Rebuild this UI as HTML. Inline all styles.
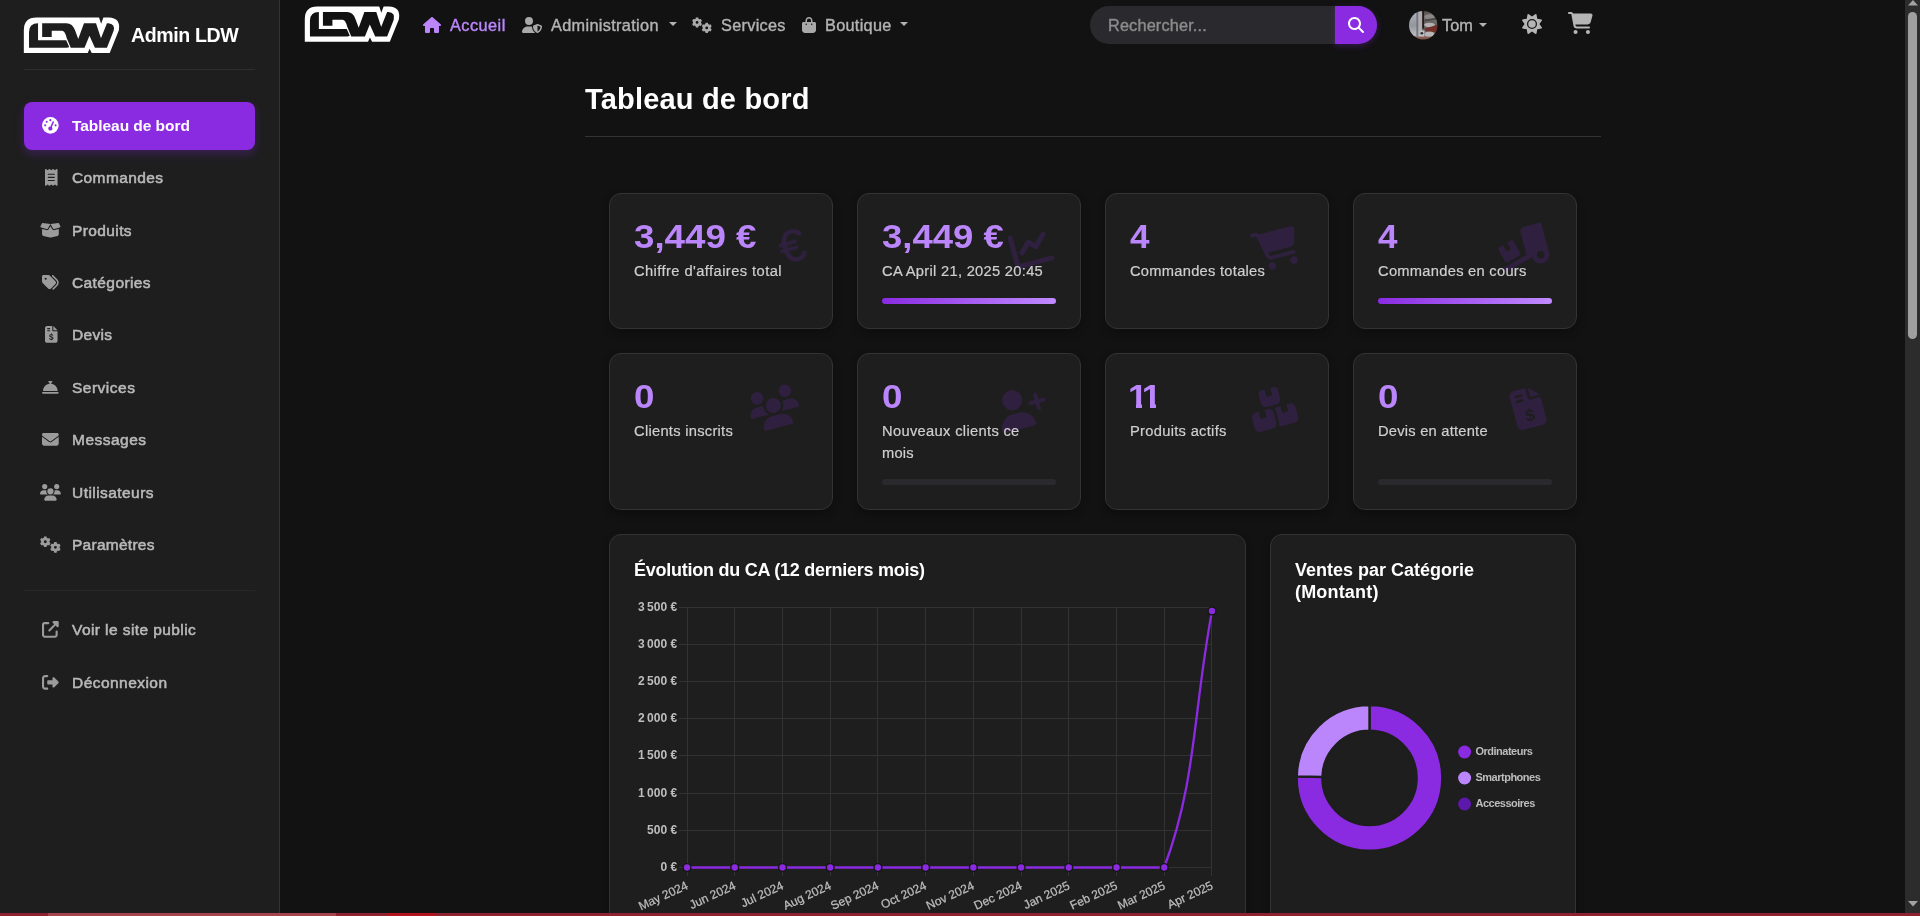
<!DOCTYPE html>
<html lang="fr">
<head>
<meta charset="utf-8">
<title>Admin LDW - Tableau de bord</title>
<style>
*{box-sizing:border-box;margin:0;padding:0}
html,body{width:1920px;height:916px;overflow:hidden;background:#121212}
body{position:relative;font-family:"Liberation Sans",sans-serif;color:#e0e0e0;-webkit-font-smoothing:antialiased}
.abs{position:absolute}
.t{position:absolute;white-space:nowrap;line-height:24px;height:24px;will-change:transform}
svg{position:absolute;overflow:visible}
/* sidebar */
#sidebar{position:absolute;left:0;top:0;width:280px;height:913px;background:#1e1e1e;border-right:1px solid #333}
#sidebar .hr{position:absolute;left:24px;width:231px;height:1px;background:#2e2e2e}
#sidebar .active{position:absolute;left:24px;top:102px;width:231px;height:48px;border-radius:8px;background:#8a2be2;box-shadow:0 4px 10px rgba(138,43,226,.28)}
.nl{font-size:15.5px;color:#b9b9b9;left:72.4px;-webkit-text-stroke:.55px #b9b9b9}
.nl.on{color:#fff;font-weight:700;-webkit-text-stroke:0}
.ni{fill:#9b9b9b}
/* top nav */
.tn{font-size:16.3px;color:#b3b3b3;-webkit-text-stroke:.4px #b3b3b3}
.tn.on{color:#bb86fc;-webkit-text-stroke-color:#bb86fc}
.ti{fill:#a9a9a9}
.caret{position:absolute;width:0;height:0;border-left:4px solid transparent;border-right:4px solid transparent;border-top:4.5px solid #b3b3b3}
#search{position:absolute;left:1090px;top:6px;width:287px;height:38px;border-radius:19px;background:#2a2a2e}
#search .btn{position:absolute;right:0;top:0;width:42px;height:38px;background:#8a2be2;border-radius:0 19px 19px 0;box-shadow:0 2px 6px rgba(138,43,226,.3)}
/* main */
.card{position:absolute;background:#1e1e1e;border:1px solid #333;border-radius:12px;box-shadow:0 4px 8px rgba(0,0,0,.28)}
.num{font-size:32.4px;font-weight:700;color:#bb86fc;line-height:40px;height:40px;transform-origin:0 50%}
.lbl{font-size:14.7px;color:#cfcfcf;-webkit-text-stroke:.2px #cfcfcf;line-height:22px;height:22px}
.bar{position:absolute;height:6px;width:174px;border-radius:3px;background:#2a2a2e}
.bar.full{background:linear-gradient(90deg,#8a2be2,#c08bff)}
.bg{fill:#30203f;z-index:0}
.num,.lbl{z-index:2}
.ct{font-size:18px;font-weight:700;color:#fff}
/*AUTOFIT*/
#brand{letter-spacing:-0.414px}
#n0{letter-spacing:-0.047px}
#n1{letter-spacing:0.403px}
#n2{letter-spacing:0.389px}
#n3{letter-spacing:0.403px}
#n4{letter-spacing:0.309px}
#n5{letter-spacing:0.495px}
#n6{letter-spacing:0.478px}
#n7{letter-spacing:0.439px}
#n8{letter-spacing:0.264px}
#n9{letter-spacing:0.416px}
#n10{letter-spacing:0.452px}
#t0{letter-spacing:0.467px}
#t1{letter-spacing:0.333px}
#t2{letter-spacing:0.295px}
#t3{letter-spacing:0.288px}
#t4{letter-spacing:0.155px}
#t5{letter-spacing:0.067px}
#h1{letter-spacing:0.184px}
#c0{transform:scaleX(1.1334)}
#c1{transform:scaleX(1.1270)}
#c2{transform:scaleX(1.0824)}
#c3{transform:scaleX(1.0824)}
#c4{transform:scaleX(1.1324)}
#c5{transform:scaleX(1.1324)}
#c6{letter-spacing:-3.54px;transform:scaleX(1.09)}
#c7{transform:scaleX(1.1324)}
#l0{letter-spacing:0.422px}
#l1{letter-spacing:0.293px}
#l2{letter-spacing:0.267px}
#l3{letter-spacing:0.277px}
#l4{letter-spacing:0.274px}
#l5{letter-spacing:0.325px}
#l5b{letter-spacing:0.228px}
#l6{letter-spacing:0.296px}
#l7{letter-spacing:0.231px}
#ct0{letter-spacing:-0.251px}
#ct1{letter-spacing:-0.004px}
#ct2{letter-spacing:0.179px}
/*END*/
</style>
</head>
<body>

<!-- ============ SIDEBAR ============ -->
<div id="sidebar">
  <div class="t" id="brand" style="left:131.3px;top:23.2px;font-size:19.6px;font-weight:700;color:#fff">Admin LDW</div>
  <div class="hr" style="top:69px"></div>
  <div class="active"></div>
  <div class="t nl on" id="n0" style="top:114px">Tableau de bord</div>
  <div class="t nl" id="n1" style="top:166px">Commandes</div>
  <div class="t nl" id="n2" style="top:219px">Produits</div>
  <div class="t nl" id="n3" style="top:271px">Catégories</div>
  <div class="t nl" id="n4" style="top:323px">Devis</div>
  <div class="t nl" id="n5" style="top:376px">Services</div>
  <div class="t nl" id="n6" style="top:428px">Messages</div>
  <div class="t nl" id="n7" style="top:481px">Utilisateurs</div>
  <div class="t nl" id="n8" style="top:533px">Paramètres</div>
  <div class="hr" style="top:590px;background:#272727"></div>
  <div class="t nl" id="n9" style="top:618px">Voir le site public</div>
  <div class="t nl" id="n10" style="top:671px">Déconnexion</div>
</div>

<!-- ============ TOP NAV ============ -->
<div id="topnav">
  <div class="t tn on" id="t0" style="left:450px;top:13.3px">Accueil</div>
  <div class="t tn" id="t1" style="left:550.8px;top:13.3px">Administration</div>
  <div class="caret" style="left:668.5px;top:21.7px"></div>
  <div class="t tn" id="t2" style="left:720.8px;top:13.3px">Services</div>
  <div class="t tn" id="t3" style="left:825px;top:13.3px">Boutique</div>
  <div class="caret" style="left:900px;top:21.7px"></div>
  <div id="search">
    <div class="t" id="t4" style="left:17.5px;top:7.3px;font-size:16.3px;color:#8c8c8c;-webkit-text-stroke:.4px #8c8c8c">Rechercher...</div>
    <div class="btn"></div>
  </div>
  <div class="t tn" id="t5" style="left:1442.1px;top:13.1px">Tom</div>
  <div class="caret" style="left:1478.5px;top:22.8px;border-top-width:4px"></div>
</div>

<!-- ============ MAIN ============ -->
<div id="main">
  <div class="t" id="h1" style="left:585.3px;top:87px;font-size:29px;font-weight:700;color:#fff;line-height:24px">Tableau de bord</div>
  <div class="abs" style="left:585px;top:136px;width:1016px;height:1px;background:#333"></div>

  <!-- row 1 -->
  <div class="card" style="left:609px;top:193px;width:224px;height:136px"></div>
  <div class="card" style="left:857px;top:193px;width:224px;height:136px"></div>
  <div class="card" style="left:1105px;top:193px;width:224px;height:136px"></div>
  <div class="card" style="left:1353px;top:193px;width:224px;height:136px"></div>
  <!-- row 2 -->
  <div class="card" style="left:609px;top:353px;width:224px;height:157px"></div>
  <div class="card" style="left:857px;top:353px;width:224px;height:157px"></div>
  <div class="card" style="left:1105px;top:353px;width:224px;height:157px"></div>
  <div class="card" style="left:1353px;top:353px;width:224px;height:157px"></div>

  <div class="t num" id="c0" style="left:633.9px;top:216.9px">3,449 €</div>
  <div class="t lbl" id="l0" style="left:633.9px;top:259.9px">Chiffre d'affaires total</div>
  <div class="t num" id="c1" style="left:882.4px;top:216.9px">3,449 €</div>
  <div class="t lbl" id="l1" style="left:882.4px;top:259.9px">CA April 21, 2025 20:45</div>
  <div class="bar full" style="left:882px;top:298px"></div>
  <div class="t num" id="c2" style="left:1130.2px;top:216.9px">4</div>
  <div class="t lbl" id="l2" style="left:1129.8px;top:259.9px">Commandes totales</div>
  <div class="t num" id="c3" style="left:1378.2px;top:216.9px">4</div>
  <div class="t lbl" id="l3" style="left:1377.7px;top:259.9px">Commandes en cours</div>
  <div class="bar full" style="left:1378px;top:298px"></div>

  <div class="t num" id="c4" style="left:633.9px;top:376.9px">0</div>
  <div class="t lbl" id="l4" style="left:633.9px;top:419.9px">Clients inscrits</div>
  <div class="t num" id="c5" style="left:881.9px;top:376.9px">0</div>
  <div class="t lbl" id="l5" style="left:882px;top:419.9px">Nouveaux clients ce</div>
  <div class="t lbl" id="l5b" style="left:882px;top:441.5px">mois</div>
  <div class="bar" style="left:882px;top:479px"></div>
  <div class="t num" id="c6" style="left:1127.97px;top:376.9px">11</div>
  <div class="abs" style="left:1128.5px;top:403.4px;width:7.7px;height:5.4px;background:#1e1e1e;z-index:3"></div>
  <div class="abs" style="left:1141.8px;top:403.4px;width:8.2px;height:5.4px;background:#1e1e1e;z-index:3"></div>
  <div class="abs" style="left:1155.6px;top:403.4px;width:7px;height:5.4px;background:#1e1e1e;z-index:3"></div>
  <div class="t lbl" id="l6" style="left:1129.8px;top:419.9px">Produits actifs</div>
  <div class="t num" id="c7" style="left:1377.9px;top:376.9px">0</div>
  <div class="t lbl" id="l7" style="left:1377.7px;top:419.9px">Devis en attente</div>
  <div class="bar" style="left:1378px;top:479px"></div>

  <!-- chart cards -->
  <div class="card" style="left:609px;top:534px;width:637px;height:420px"></div>
  <div class="card" style="left:1270px;top:534px;width:306px;height:420px"></div>
  <div class="t ct" id="ct0" style="left:633.9px;top:558px">Évolution du CA (12 derniers mois)</div>
  <div class="t ct" id="ct1" style="left:1295px;top:558px">Ventes par Catégorie</div>
  <div class="t ct" id="ct2" style="left:1295px;top:579.6px">(Montant)</div>
</div>

<!--CHARTS-->
<svg id="linechart" style="left:0;top:0;width:1920px;height:913px" viewBox="0 0 1920 913" font-family="Liberation Sans, sans-serif">
<g stroke="#323232" stroke-width="1" shape-rendering="crispEdges">
<line x1="679" y1="607.5" x2="1212.0" y2="607.5"/>
<line x1="679" y1="644.5" x2="1212.0" y2="644.5"/>
<line x1="679" y1="681.5" x2="1212.0" y2="681.5"/>
<line x1="679" y1="718.5" x2="1212.0" y2="718.5"/>
<line x1="679" y1="755.5" x2="1212.0" y2="755.5"/>
<line x1="679" y1="793.5" x2="1212.0" y2="793.5"/>
<line x1="679" y1="830.5" x2="1212.0" y2="830.5"/>
<line x1="679" y1="867.5" x2="1212.0" y2="867.5"/>
<line x1="687.5" y1="607.0" x2="687.5" y2="876"/>
<line x1="734.5" y1="607.0" x2="734.5" y2="876"/>
<line x1="782.5" y1="607.0" x2="782.5" y2="876"/>
<line x1="830.5" y1="607.0" x2="830.5" y2="876"/>
<line x1="877.5" y1="607.0" x2="877.5" y2="876"/>
<line x1="925.5" y1="607.0" x2="925.5" y2="876"/>
<line x1="973.5" y1="607.0" x2="973.5" y2="876"/>
<line x1="1021.5" y1="607.0" x2="1021.5" y2="876"/>
<line x1="1068.5" y1="607.0" x2="1068.5" y2="876"/>
<line x1="1116.5" y1="607.0" x2="1116.5" y2="876"/>
<line x1="1164.5" y1="607.0" x2="1164.5" y2="876"/>
<line x1="1211.5" y1="607.0" x2="1211.5" y2="876"/>
</g>
<g font-size="12" font-weight="700" fill="#bdbdbd" text-anchor="end">
<text x="677.1" y="610.9">3 500 €</text>
<text x="677.1" y="647.9">3 000 €</text>
<text x="677.1" y="684.9">2 500 €</text>
<text x="677.1" y="721.9">2 000 €</text>
<text x="677.1" y="758.9">1 500 €</text>
<text x="677.1" y="796.9">1 000 €</text>
<text x="677.1" y="833.9">500 €</text>
<text x="677.1" y="870.9">0 €</text>
</g>
<g font-size="12" fill="#bdbdbd" stroke="#bdbdbd" stroke-width="0.25" text-anchor="end">
<text transform="translate(687.0,884.5) rotate(-25)" y="4.2">May 2024</text>
<text transform="translate(734.8,884.5) rotate(-25)" y="4.2">Jun 2024</text>
<text transform="translate(782.5,884.5) rotate(-25)" y="4.2">Jul 2024</text>
<text transform="translate(830.2,884.5) rotate(-25)" y="4.2">Aug 2024</text>
<text transform="translate(877.9,884.5) rotate(-25)" y="4.2">Sep 2024</text>
<text transform="translate(925.6,884.5) rotate(-25)" y="4.2">Oct 2024</text>
<text transform="translate(973.4,884.5) rotate(-25)" y="4.2">Nov 2024</text>
<text transform="translate(1021.1,884.5) rotate(-25)" y="4.2">Dec 2024</text>
<text transform="translate(1068.8,884.5) rotate(-25)" y="4.2">Jan 2025</text>
<text transform="translate(1116.5,884.5) rotate(-25)" y="4.2">Feb 2025</text>
<text transform="translate(1164.2,884.5) rotate(-25)" y="4.2">Mar 2025</text>
<text transform="translate(1212.0,884.5) rotate(-25)" y="4.2">Apr 2025</text>
</g>
<path d="M687.0,867.5 L1164.2,867.5 C1196.5,780.7 1192.9,713.5 1212.0,610.9" fill="none" stroke="#8a2be2" stroke-width="2.3" stroke-linecap="butt"/>
<circle cx="687.03" cy="867.5" r="4.6" fill="#161616"/><circle cx="687.03" cy="867.5" r="3.15" fill="#8a2be2"/>
<circle cx="734.75" cy="867.5" r="4.6" fill="#161616"/><circle cx="734.75" cy="867.5" r="3.15" fill="#8a2be2"/>
<circle cx="782.47" cy="867.5" r="4.6" fill="#161616"/><circle cx="782.47" cy="867.5" r="3.15" fill="#8a2be2"/>
<circle cx="830.20" cy="867.5" r="4.6" fill="#161616"/><circle cx="830.20" cy="867.5" r="3.15" fill="#8a2be2"/>
<circle cx="877.92" cy="867.5" r="4.6" fill="#161616"/><circle cx="877.92" cy="867.5" r="3.15" fill="#8a2be2"/>
<circle cx="925.64" cy="867.5" r="4.6" fill="#161616"/><circle cx="925.64" cy="867.5" r="3.15" fill="#8a2be2"/>
<circle cx="973.36" cy="867.5" r="4.6" fill="#161616"/><circle cx="973.36" cy="867.5" r="3.15" fill="#8a2be2"/>
<circle cx="1021.08" cy="867.5" r="4.6" fill="#161616"/><circle cx="1021.08" cy="867.5" r="3.15" fill="#8a2be2"/>
<circle cx="1068.80" cy="867.5" r="4.6" fill="#161616"/><circle cx="1068.80" cy="867.5" r="3.15" fill="#8a2be2"/>
<circle cx="1116.53" cy="867.5" r="4.6" fill="#161616"/><circle cx="1116.53" cy="867.5" r="3.15" fill="#8a2be2"/>
<circle cx="1164.25" cy="867.5" r="4.6" fill="#161616"/><circle cx="1164.25" cy="867.5" r="3.15" fill="#8a2be2"/>
<circle cx="1211.97" cy="610.9" r="4.6" fill="#161616"/><circle cx="1211.97" cy="610.9" r="3.15" fill="#8a2be2"/>
</svg>
<svg id="donut" style="left:0;top:0;width:1920px;height:913px" viewBox="0 0 1920 913" font-family="Liberation Sans, sans-serif">
<path d="M1369.50,705.10 A72.8,72.8 0 1 1 1296.72,776.38 L1322.41,776.91 A47.1,47.1 0 1 0 1369.50,730.80 Z" fill="#8a2be2" stroke="#1e1e1e" stroke-width="2.4" stroke-linejoin="miter"/>
<path d="M1296.72,776.38 A72.8,72.8 0 0 1 1369.50,705.10 L1369.50,730.80 A47.1,47.1 0 0 0 1322.41,776.91 Z" fill="#bb86fc" stroke="#1e1e1e" stroke-width="2.4" stroke-linejoin="miter"/>
<circle cx="1464.6" cy="752" r="6.5" fill="#8a2be2"/>
<text id="lg0" x="1475.5" y="755.4" font-size="11" font-weight="700" fill="#bdbdbd" letter-spacing="-0.5">Ordinateurs</text>
<circle cx="1464.6" cy="778" r="6.5" fill="#bb86fc"/>
<text id="lg1" x="1475.5" y="781.4" font-size="11" font-weight="700" fill="#bdbdbd" letter-spacing="-0.5">Smartphones</text>
<circle cx="1464.6" cy="804" r="6.5" fill="#5b18aa"/>
<text id="lg2" x="1475.5" y="807.4" font-size="11" font-weight="700" fill="#bdbdbd" letter-spacing="-0.5">Accessoires</text>
</svg>
<!--/CHARTS-->
<!--ICONS-->
<svg class="ni" style="left:42.44px;top:116.84px;width:16.72px;height:16.72px;fill:#fff;" viewBox="0 0 512 512"><path fill-rule="evenodd" d="M0 256a256 256 0 1 1 512 0A256 256 0 1 1 0 256zM288 96a32 32 0 1 0 -64 0 32 32 0 1 0 64 0zM256 416c35.3 0 64-28.7 64-64c0-17.400-6.900-33.100-18.100-44.600L366 161.700c5.300-12.100-.2-26.300-12.300-31.600s-26.300 .2-31.600 12.300L257.900 288c-.6 0-1.300 0-1.900 0c-35.300 0-64 28.700-64 64s28.700 64 64 64zM176 144a32 32 0 1 0 -64 0 32 32 0 1 0 64 0zM96 288a32 32 0 1 0 0-64 32 32 0 1 0 0 64zm352-32a32 32 0 1 0 -64 0 32 32 0 1 0 64 0z"/></svg>
<svg class="ni" style="left:44.53px;top:168.84px;width:12.54px;height:16.72px;" viewBox="0 0 384 512"><path fill-rule="evenodd" d="M14 2.200C22.500-1.700 32.500-.3 39.600 5.800L80 40.400 120.400 5.800c9-7.700 22.300-7.700 31.200 0L192 40.400 232.400 5.800c9-7.700 22.300-7.700 31.200 0L304 40.400 344.400 5.800c7.100-6.100 17.100-7.500 25.600-3.600s14 12.400 14 21.800V488c0 9.400-5.500 17.900-14 21.800s-18.500 2.500-25.600-3.600L304 471.600l-40.400 34.600c-9 7.700-22.300 7.700-31.200 0L192 471.600l-40.400 34.600c-9 7.700-22.300 7.700-31.200 0L80 471.600 39.600 506.200c-7.100 6.100-17.100 7.500-25.600 3.600S0 497.400 0 488V24C0 14.600 5.500 6.100 14 2.200zM96 144c-8.800 0-16 7.200-16 16s7.200 16 16 16H288c8.800 0 16-7.200 16-16s-7.200-16-16-16H96zM80 352c0 8.800 7.200 16 16 16H288c8.800 0 16-7.200 16-16s-7.200-16-16-16H96c-8.800 0-16 7.200-16 16zM96 240c-8.800 0-16 7.200-16 16s7.200 16 16 16H288c8.800 0 16-7.200 16-16s-7.200-16-16-16H96z"/></svg>
<svg class="ni" style="left:40.35px;top:221.84px;width:20.90px;height:16.72px;" viewBox="0 0 640 512"><path fill-rule="evenodd" d="M58.900 42.100c3-6.100 9.600-9.600 16.300-8.700L320 64 564.800 33.400c6.700-.8 13.300 2.700 16.300 8.700l41.700 83.400c9 17.900-.6 39.600-19.800 45.100L439.600 217.300c-13.900 4-28.800-1.900-36.200-14.300L320 64 236.600 203c-7.400 12.400-22.300 18.300-36.200 14.300L37.100 170.600c-19.300-5.500-28.800-27.200-19.800-45.100L58.900 42.100zM321.100 128l54.900 91.400c14.900 24.800 44.600 36.600 72.500 28.600L576 211.600v167c0 22-15 41.200-36.400 46.600l-204.100 51c-10.200 2.600-20.900 2.600-31 0l-204.100-51C79 419.700 64 400.500 64 378.500v-167L191.600 248c27.800 8 57.600-3.800 72.500-28.600L318.900 128h2.200z"/></svg>
<svg class="ni" style="left:42.44px;top:273.84px;width:16.72px;height:16.72px;" viewBox="0 0 512 512"><path fill-rule="evenodd" d="M345 39.100L472.800 168.400c52.400 53 52.400 138.200 0 191.200L360.800 472.900c-9.300 9.400-24.500 9.500-33.900 .2s-9.500-24.500-.2-33.900L438.600 325.900c33.900-34.300 33.900-89.400 0-123.700L310.900 72.900c-9.300-9.400-9.200-24.600 .2-33.900s24.600-9.200 33.900 .2zM0 229.500V80C0 53.500 21.500 32 48 32H197.500c17 0 33.300 6.700 45.300 18.700l168 168c25 25 25 65.500 0 90.500L277.300 442.700c-25 25-65.500 25-90.500 0l-168-168C6.700 262.700 0 246.500 0 229.500zM144 144a32 32 0 1 0 -64 0 32 32 0 1 0 64 0z"/></svg>
<svg class="ni" style="left:44.53px;top:325.84px;width:12.54px;height:16.72px;" viewBox="0 0 384 512"><path fill-rule="evenodd" d="M64 0C28.700 0 0 28.700 0 64V448c0 35.300 28.700 64 64 64H320c35.300 0 64-28.700 64-64V160H256c-17.700 0-32-14.300-32-32V0H64zM256 0V128H384L256 0zM64 80c0-8.800 7.200-16 16-16h64c8.800 0 16 7.200 16 16s-7.200 16-16 16H80c-8.800 0-16-7.200-16-16zm0 64c0-8.800 7.200-16 16-16h64c8.800 0 16 7.200 16 16s-7.200 16-16 16H80c-8.800 0-16-7.200-16-16z"/><text x="192" y="440" font-size="250" font-weight="700" text-anchor="middle" font-family="Liberation Sans, sans-serif" fill="#1e1e1e">$</text></svg>
<svg class="ni" style="left:42.44px;top:378.84px;width:16.72px;height:16.72px;" viewBox="0 0 512 512"><path fill-rule="evenodd" d="M216 64c-13.300 0-24 10.700-24 24s10.700 24 24 24h16v33.300C119.600 157.200 32 252.400 32 368H480c0-115.600-87.600-210.800-200-222.700V112h16c13.300 0 24-10.700 24-24s-10.700-24-24-24H256 216zM24 400c-13.300 0-24 10.700-24 24s10.700 24 24 24H488c13.300 0 24-10.700 24-24s-10.700-24-24-24H24z"/></svg>
<svg class="ni" style="left:42.44px;top:430.84px;width:16.72px;height:16.72px;" viewBox="0 0 512 512"><path fill-rule="evenodd" d="M48 64C21.500 64 0 85.500 0 112c0 15.100 7.100 29.300 19.200 38.400L236.800 313.600c11.400 8.500 27 8.500 38.400 0L492.800 150.400c12.100-9.100 19.200-23.300 19.200-38.400c0-26.500-21.500-48-48-48H48zM0 176V384c0 35.300 28.700 64 64 64H448c35.300 0 64-28.700 64-64V176L294.400 339.200c-22.800 17.100-54 17.100-76.800 0L0 176z"/></svg>
<svg class="ni" style="left:40.35px;top:483.84px;width:20.90px;height:16.72px;" viewBox="0 0 640 512"><path fill-rule="evenodd" d="M144 0a80 80 0 1 1 0 160A80 80 0 1 1 144 0zM512 0a80 80 0 1 1 0 160A80 80 0 1 1 512 0zM0 298.700C0 239.800 47.800 192 106.700 192h42.700c15.900 0 31 3.500 44.600 9.700c-1.300 7.200-1.900 14.700-1.900 22.300c0 38.200 16.800 72.500 43.300 96c-.2 0-.4 0-.7 0H21.300C9.600 320 0 310.400 0 298.700zM405.300 320c-.2 0-.4 0-.7 0c26.600-23.500 43.300-57.800 43.300-96c0-7.600-.7-15-1.900-22.300c13.600-6.300 28.700-9.700 44.600-9.700h42.700C592.200 192 640 239.800 640 298.700c0 11.800-9.600 21.300-21.300 21.300H405.300zM224 224a96 96 0 1 1 192 0 96 96 0 1 1 -192 0zM128 485.300C128 411.700 187.700 352 261.300 352H378.700C452.300 352 512 411.700 512 485.300c0 14.700-11.900 26.700-26.700 26.700H154.700c-14.700 0-26.700-11.900-26.700-26.700z"/></svg>
<svg class="ni" style="left:40.35px;top:535.84px;width:20.90px;height:16.72px;" viewBox="0 0 640 512"><path fill-rule="evenodd" d="M115.6 53.1 L124.7 12.3 L199.3 12.3 L208.4 53.1 L243.5 73.4 L283.4 60.8 L320.7 125.5 L289.9 153.7 L289.9 194.3 L320.7 222.5 L283.4 287.2 L243.5 274.6 L208.4 294.9 L199.3 335.7 L124.7 335.7 L115.6 294.9 L80.5 274.6 L40.6 287.2 L3.3 222.5 L34.1 194.3 L34.1 153.7 L3.3 125.5 L40.6 60.8 L80.5 73.4ZM117.2 174.0a44.8 44.8 0 1 0 89.6 0a44.8 44.8 0 1 0 -89.6 0ZM425.6 227.1 L434.7 186.3 L509.3 186.3 L518.4 227.1 L553.5 247.4 L593.4 234.8 L630.7 299.5 L599.9 327.7 L599.9 368.3 L630.7 396.5 L593.4 461.2 L553.5 448.6 L518.4 468.9 L509.3 509.7 L434.7 509.7 L425.6 468.9 L390.5 448.6 L350.6 461.2 L313.3 396.5 L344.1 368.3 L344.1 327.7 L313.3 299.5 L350.6 234.8 L390.5 247.4ZM427.2 348.0a44.8 44.8 0 1 0 89.6 0a44.8 44.8 0 1 0 -89.6 0Z"/></svg>
<svg class="ni" style="left:42.44px;top:620.84px;width:16.72px;height:16.72px;" viewBox="0 0 512 512"><path fill-rule="evenodd" d="M352 0c-12.900 0-24.600 7.800-29.600 19.800s-2.200 25.700 6.900 34.900L370.700 96 201.400 265.400c-12.500 12.500-12.500 32.800 0 45.300s32.800 12.500 45.300 0L416 141.300l41.400 41.400c9.200 9.200 22.900 11.900 34.900 6.900s19.800-16.600 19.800-29.600V32c0-17.700-14.300-32-32-32H352zM80 32C35.800 32 0 67.800 0 112V432c0 44.200 35.800 80 80 80H400c44.200 0 80-35.800 80-80V320c0-17.700-14.300-32-32-32s-32 14.300-32 32V432c0 8.800-7.200 16-16 16H80c-8.800 0-16-7.200-16-16V112c0-8.800 7.200-16 16-16H192c17.700 0 32-14.300 32-32s-14.300-32-32-32H80z"/></svg>
<svg class="ni" style="left:42.44px;top:673.84px;width:16.72px;height:16.72px;" viewBox="0 0 512 512"><path fill-rule="evenodd" d="M377.900 105.900L500.700 228.700c7.200 7.200 11.300 17.100 11.300 27.300s-4.100 20.100-11.300 27.300L377.900 406.100c-6.400 6.400-15 9.900-24 9.900c-18.700 0-33.900-15.200-33.900-33.900l0-62.100-128 0c-17.700 0-32-14.300-32-32l0-64c0-17.700 14.300-32 32-32l128 0 0-62.100c0-18.700 15.200-33.900 33.900-33.900c9 0 17.600 3.600 24 9.900zM160 96L96 96c-17.700 0-32 14.300-32 32l0 256c0 17.700 14.300 32 32 32l64 0c17.700 0 32 14.300 32 32s-14.300 32-32 32l-64 0c-53 0-96-43-96-96L0 128C0 75 43 32 96 32l64 0c17.700 0 32 14.300 32 32s-14.300 32-32 32z"/></svg>
<svg class="ti" style="left:423.20px;top:16.80px;width:18.00px;height:16.00px;fill:#bb86fc;" viewBox="0 0 576 512"><path fill-rule="evenodd" d="M575.800 255.500c0 18-15 32.100-32 32.100h-32l.7 160.200c0 2.700-.2 5.400-.5 8.100V472c0 22.100-17.900 40-40 40H456c-1.100 0-2.200 0-3.300-.1c-1.400 .1-2.800 .1-4.200 .1H416 392c-22.100 0-40-17.900-40-40V448 384c0-17.700-14.300-32-32-32H256c-17.700 0-32 14.300-32 32v64 24c0 22.100-17.900 40-40 40H160 128.100c-1.500 0-3-.1-4.500-.2c-1.200 .1-2.400 .2-3.600 .2H104c-22.100 0-40-17.900-40-40V360c0-.9 0-1.900 .1-2.800V287.600H32c-18 0-32-14-32-32.100c0-9 3-17 10-24L266.400 8c7-7 15-8 22-8s15 2 21 7L564.800 231.500c8 7 12 15 11 24z"/></svg>
<svg class="ti" style="left:521.50px;top:16.80px;width:20.00px;height:16.00px;" viewBox="0 0 640 512"><path fill-rule="evenodd" d="M224 256A128 128 0 1 0 224 0a128 128 0 1 0 0 256zm-45.700 48C79.800 304 0 383.800 0 482.300C0 498.700 13.300 512 29.700 512H418.300c1.800 0 3.500-.2 5.300-.5c-76.300-55.100-99.800-141-103.100-200.200c-16.100-4.800-33.100-7.300-50.700-7.300H178.300zm308.800-78.300l-120 48C358 277.400 352 286.200 352 296c0 63.300 25.900 168.800 134.800 214.200c5.900 2.500 12.600 2.500 18.500 0C614.100 464.800 640 359.300 640 296c0-9.800-6-18.600-15.100-22.300l-120-48c-5.700-2.300-12.100-2.300-17.800 0zM591.400 312c-3.900 50.700-27.200 116.700-95.400 149.700V273.800L591.400 312z"/></svg>
<svg class="ti" style="left:691.60px;top:16.80px;width:20.00px;height:16.00px;" viewBox="0 0 640 512"><path fill-rule="evenodd" d="M115.6 53.1 L124.7 12.3 L199.3 12.3 L208.4 53.1 L243.5 73.4 L283.4 60.8 L320.7 125.5 L289.9 153.7 L289.9 194.3 L320.7 222.5 L283.4 287.2 L243.5 274.6 L208.4 294.9 L199.3 335.7 L124.7 335.7 L115.6 294.9 L80.5 274.6 L40.6 287.2 L3.3 222.5 L34.1 194.3 L34.1 153.7 L3.3 125.5 L40.6 60.8 L80.5 73.4ZM117.2 174.0a44.8 44.8 0 1 0 89.6 0a44.8 44.8 0 1 0 -89.6 0ZM425.6 227.1 L434.7 186.3 L509.3 186.3 L518.4 227.1 L553.5 247.4 L593.4 234.8 L630.7 299.5 L599.9 327.7 L599.9 368.3 L630.7 396.5 L593.4 461.2 L553.5 448.6 L518.4 468.9 L509.3 509.7 L434.7 509.7 L425.6 468.9 L390.5 448.6 L350.6 461.2 L313.3 396.5 L344.1 368.3 L344.1 327.7 L313.3 299.5 L350.6 234.8 L390.5 247.4ZM427.2 348.0a44.8 44.8 0 1 0 89.6 0a44.8 44.8 0 1 0 -89.6 0Z"/></svg>
<svg class="ti" style="left:801.60px;top:16.80px;width:14.00px;height:16.00px;" viewBox="0 0 448 512"><path fill-rule="evenodd" d="M160 112c0-35.300 28.700-64 64-64s64 28.700 64 64v48H160V112zm-48 48H48c-26.500 0-48 21.500-48 48V416c0 53 43 96 96 96H352c53 0 96-43 96-96V208c0-26.500-21.500-48-48-48H336V112C336 50.100 285.900 0 224 0S112 50.100 112 112v48zm24 48a24 24 0 1 1 0 48 24 24 0 1 1 0-48zm152 24a24 24 0 1 1 48 0 24 24 0 1 1 -48 0z"/></svg>
<svg class="ti" style="left:1348.40px;top:16.80px;width:16.00px;height:16.00px;fill:#fff;" viewBox="0 0 512 512"><path fill-rule="evenodd" d="M416 208c0 45.900-14.900 88.300-40 122.700L502.600 457.400c12.500 12.500 12.500 32.800 0 45.300s-32.800 12.500-45.300 0L330.700 376c-34.400 25.200-76.800 40-122.700 40C93.100 416 0 322.900 0 208S93.100 0 208 0S416 93.100 416 208zM208 352a144 144 0 1 0 0-288 144 144 0 1 0 0 288z"/></svg>
<svg class="ti" style="left:1521.60px;top:13.80px;width:20.00px;height:20.00px;fill:#b5b5b5;" viewBox="0 0 512 512"><path fill-rule="evenodd" d="M361.500 1.200c5 2.100 8.600 6.600 9.600 11.900L391 121l107.900 19.800c5.300 1 9.800 4.600 11.900 9.600s1.500 10.700-1.600 15.200L446.900 256l62.300 90.300c3.100 4.500 3.700 10.200 1.600 15.200s-6.600 8.600-11.900 9.600L391 391 371.100 498.900c-1 5.300-4.600 9.800-9.600 11.900s-10.700 1.500-15.200-1.600L256 446.900l-90.300 62.300c-4.500 3.100-10.200 3.700-15.200 1.600s-8.600-6.600-9.600-11.900L121 391 13.100 371.100c-5.300-1-9.800-4.600-11.900-9.600s-1.500-10.700 1.600-15.200L65.100 256 2.800 165.700c-3.100-4.500-3.700-10.200-1.600-15.200s6.600-8.600 11.900-9.600L121 121 140.900 13.100c1-5.300 4.600-9.800 9.600-11.900s10.700-1.500 15.200 1.600L256 65.100 346.300 2.800c4.500-3.100 10.200-3.700 15.200-1.600zM160 256a96 96 0 1 1 192 0 96 96 0 1 1 -192 0zm224 0a128 128 0 1 0 -256 0 128 128 0 1 0 256 0z"/></svg>
<svg class="ti" style="left:1568.40px;top:12.00px;width:24.75px;height:22.00px;fill:#b5b5b5;" viewBox="0 0 576 512"><path fill-rule="evenodd" d="M0 24C0 10.700 10.700 0 24 0H69.500c22 0 41.500 12.800 50.600 32h411c26.300 0 45.500 25 38.600 50.400l-41 152.300c-8.500 31.400-37 53.300-69.500 53.300H170.700l5.400 28.500c2.200 11.300 12.100 19.500 23.600 19.500H488c13.300 0 24 10.700 24 24s-10.700 24-24 24H199.700c-34.600 0-64.300-24.600-70.700-58.500L77.400 54.500c-.7-3.800-4-6.500-7.900-6.500H24C10.700 48 0 37.300 0 24zM128 464a48 48 0 1 1 96 0 48 48 0 1 1 -96 0zm336-48a48 48 0 1 1 0 96 48 48 0 1 1 0-96z"/></svg>
<svg class="bg" style="left:1010.60px;top:228.00px;width:40.00px;height:40.00px;transform:rotate(-15deg);" viewBox="0 0 512 512"><path fill-rule="evenodd" d="M64 64c0-17.700-14.300-32-32-32S0 46.300 0 64V400c0 44.200 35.800 80 80 80H480c17.700 0 32-14.300 32-32s-14.300-32-32-32H80c-8.800 0-16-7.200-16-16V64zm406.600 86.600c12.500-12.500 12.500-32.800 0-45.300s-32.800-12.500-45.300 0L320 210.700l-57.400-57.400c-12.500-12.500-32.800-12.500-45.300 0l-112 112c-12.500 12.500-12.500 32.800 0 45.300s32.800 12.500 45.300 0L240 221.300l57.400 57.400c12.500 12.500 32.800 12.500 45.300 0l128-128z"/></svg>
<svg class="bg" style="left:1253.60px;top:228.00px;width:45.00px;height:40.00px;transform:rotate(-15deg);" viewBox="0 0 576 512"><path fill-rule="evenodd" d="M0 24C0 10.700 10.700 0 24 0H69.500c22 0 41.500 12.800 50.600 32h411c26.300 0 45.500 25 38.600 50.400l-41 152.300c-8.500 31.400-37 53.300-69.500 53.300H170.700l5.400 28.500c2.200 11.300 12.100 19.500 23.600 19.500H488c13.300 0 24 10.700 24 24s-10.700 24-24 24H199.700c-34.600 0-64.300-24.600-70.700-58.500L77.400 54.500c-.7-3.800-4-6.500-7.900-6.500H24C10.700 48 0 37.300 0 24zM128 464a48 48 0 1 1 96 0 48 48 0 1 1 -96 0zm336-48a48 48 0 1 1 0 96 48 48 0 1 1 0-96z"/></svg>
<svg class="bg" style="left:1496.60px;top:228.00px;width:50.00px;height:40.00px;transform:rotate(-15deg);" viewBox="0 0 640 512"><path fill-rule="evenodd" d="M640 0V400c0 61.900-50.100 112-112 112c-61 0-110.500-48.700-112-109.300L48.400 502.900c-17.100 4.600-34.600-5.400-39.300-22.500s5.400-34.600 22.500-39.300L352 353.800V64c0-35.300 28.700-64 64-64H640zM576 400a48 48 0 1 0 -96 0 48 48 0 1 0 96 0zM23.100 207.700c-4.600-17.100 5.600-34.600 22.600-39.200l46.400-12.400 20.700 77.300c2.300 8.500 11.100 13.600 19.600 11.300l30.900-8.300c8.500-2.300 13.600-11.100 11.300-19.600l-20.700-77.300 46.400-12.400c17.100-4.600 34.600 5.600 39.200 22.600l41.400 154.500c4.600 17.100-5.600 34.600-22.600 39.200L103.700 384.900c-17.100 4.600-34.600-5.600-39.200-22.600L23.100 207.700z"/></svg>
<svg class="bg" style="left:749.40px;top:388.00px;width:50.00px;height:40.00px;transform:rotate(-15deg);" viewBox="0 0 640 512"><path fill-rule="evenodd" d="M144 0a80 80 0 1 1 0 160A80 80 0 1 1 144 0zM512 0a80 80 0 1 1 0 160A80 80 0 1 1 512 0zM0 298.700C0 239.800 47.800 192 106.700 192h42.700c15.900 0 31 3.500 44.600 9.700c-1.300 7.200-1.900 14.700-1.900 22.300c0 38.200 16.800 72.500 43.300 96c-.2 0-.4 0-.7 0H21.300C9.600 320 0 310.400 0 298.700zM405.300 320c-.2 0-.4 0-.7 0c26.600-23.500 43.300-57.800 43.300-96c0-7.600-.7-15-1.900-22.300c13.600-6.300 28.700-9.700 44.600-9.700h42.700C592.200 192 640 239.800 640 298.700c0 11.800-9.600 21.300-21.300 21.300H405.300zM224 224a96 96 0 1 1 192 0 96 96 0 1 1 -192 0zM128 485.300C128 411.700 187.700 352 261.300 352H378.700C452.300 352 512 411.700 512 485.300c0 14.700-11.900 26.700-26.700 26.700H154.700c-14.700 0-26.700-11.900-26.700-26.700z"/></svg>
<svg class="bg" style="left:997.40px;top:388.00px;width:50.00px;height:40.00px;transform:rotate(-15deg);" viewBox="0 0 640 512"><path fill-rule="evenodd" d="M96 128a128 128 0 1 1 256 0A128 128 0 1 1 96 128zM0 482.300C0 383.800 79.800 304 178.300 304h91.400C368.200 304 448 383.800 448 482.300c0 16.400-13.300 29.700-29.700 29.700H29.700C13.300 512 0 498.700 0 482.300zM504 312V248H440c-13.300 0-24-10.700-24-24s10.700-24 24-24h64V136c0-13.300 10.700-24 24-24s24 10.700 24 24v64h64c13.300 0 24 10.700 24 24s-10.700 24-24 24H552v64c0 13.300 10.700 24-24 24s-24-10.700-24-24z"/></svg>
<svg class="bg" style="left:1250.40px;top:388.00px;width:45.00px;height:40.00px;transform:rotate(-15deg);" viewBox="0 0 576 512"><path fill-rule="evenodd" d="M248 0H208c-26.500 0-48 21.500-48 48V160c0 35.300 28.700 64 64 64H352c35.300 0 64-28.700 64-64V48c0-26.500-21.500-48-48-48H328V80c0 8.800-7.200 16-16 16H264c-8.800 0-16-7.200-16-16V0zM64 256c-35.300 0-64 28.700-64 64V448c0 35.300 28.700 64 64 64H224c35.300 0 64-28.700 64-64V320c0-35.300-28.700-64-64-64H184v80c0 8.800-7.200 16-16 16H120c-8.800 0-16-7.200-16-16V256H64zM352 512H512c35.300 0 64-28.700 64-64V320c0-35.300-28.700-64-64-64H472v80c0 8.800-7.200 16-16 16H408c-8.800 0-16-7.200-16-16V256H352c-15 0-28.800 5.100-39.700 13.800c4.900 10.400 7.700 22 7.700 34.200V464c0 12.200-2.800 23.800-7.700 34.200C323.200 506.900 337 512 352 512z"/></svg>
<svg class="bg" style="left:1513.40px;top:388.00px;width:30.00px;height:40.00px;transform:rotate(-15deg);" viewBox="0 0 384 512"><path fill-rule="evenodd" d="M64 0C28.700 0 0 28.700 0 64V448c0 35.300 28.700 64 64 64H320c35.300 0 64-28.700 64-64V160H256c-17.700 0-32-14.300-32-32V0H64zM256 0V128H384L256 0zM64 80c0-8.800 7.200-16 16-16h64c8.800 0 16 7.200 16 16s-7.200 16-16 16H80c-8.800 0-16-7.200-16-16zm0 64c0-8.800 7.200-16 16-16h64c8.800 0 16 7.200 16 16s-7.200 16-16 16H80c-8.800 0-16-7.200-16-16z"/><text x="192" y="425" font-size="215" font-weight="700" text-anchor="middle" font-family="Liberation Sans, sans-serif" fill="#1e1e1e">$</text></svg>
<div class="t" id="eurobg" style="left:766.5px;top:220.7px;width:50px;height:50px;line-height:50px;text-align:center;font-size:47px;font-weight:400;-webkit-text-stroke:.7px #30203f;color:#30203f;z-index:0;transform:rotate(-15deg)">€</div>
<!--/ICONS-->

<!--LOGOS-->
<svg id="logo1" role="img" aria-label="LDW" style="left:20px;top:12px;width:105px;height:46px" viewBox="0 0 1920 841"><path fill="#fff" fill-rule="evenodd" d="M70,750 L70,335 Q70,100 300,100 L1445,100 L1483,215 L1525,100 L1625,100 Q1845,105 1808,335 L1640,750 L1312,750 L1272,672 L1238,750 Z M165,655 L165,365 Q165,205 330,205 L330,515 L845,515 L900,640 Q885,655 850,655 Z M405,205 L850,205 Q960,210 1005,330 L1065,492 L1170,205 L1390,205 L1480,480 L1590,205 L1615,205 Q1745,215 1712,345 L1590,655 L1370,655 L1270,435 L1180,655 L928,655 L852,470 Q820,345 770,345 L580,345 L580,455 L405,455 Z"/></svg>
<svg id="logo2" role="img" aria-label="LDW" style="left:301.2px;top:1.2px;width:104px;height:45.6px" viewBox="0 0 1920 841"><path fill="#fff" fill-rule="evenodd" d="M70,750 L70,335 Q70,100 300,100 L1445,100 L1483,215 L1525,100 L1625,100 Q1845,105 1808,335 L1640,750 L1312,750 L1272,672 L1238,750 Z M165,655 L165,365 Q165,205 330,205 L330,515 L845,515 L900,640 Q885,655 850,655 Z M405,205 L850,205 Q960,210 1005,330 L1065,492 L1170,205 L1390,205 L1480,480 L1590,205 L1615,205 Q1745,215 1712,345 L1590,655 L1370,655 L1270,435 L1180,655 L928,655 L852,470 Q820,345 770,345 L580,345 L580,455 L405,455 Z"/></svg>
<svg id="avatar" style="left:1408.8px;top:10.6px;width:28.5px;height:28.5px" viewBox="0 0 100 100">
<defs><filter id="avb" x="-10%" y="-10%" width="120%" height="120%"><feGaussianBlur stdDeviation="2.6"/></filter><clipPath id="avc"><circle cx="50" cy="50" r="50"/></clipPath>
<linearGradient id="avg" x1="0" y1="0" x2="0" y2="1"><stop offset="0" stop-color="#dcdde2"/><stop offset=".5" stop-color="#b4b8c2"/><stop offset=".85" stop-color="#e4e4e9"/><stop offset="1" stop-color="#70605c"/></linearGradient>
<linearGradient id="avf" x1="0" y1="0" x2="0" y2="1"><stop offset="0" stop-color="#6a5f5c"/><stop offset=".25" stop-color="#918d8d"/><stop offset=".45" stop-color="#7c7878"/><stop offset="1" stop-color="#8a8484"/></linearGradient></defs>
<g clip-path="url(#avc)"><g filter="url(#avb)">
<rect x="0" y="0" width="48" height="100" fill="url(#avg)"/>
<rect x="26" y="0" width="7" height="88" fill="#8b8d96"/>
<rect x="33" y="0" width="14" height="100" fill="#d2d2d9"/>
<rect x="47" y="0" width="53" height="100" fill="url(#avf)"/>
<rect x="46.500" y="0" width="6.500" height="62" fill="#33221e"/>
<ellipse cx="74" cy="20" rx="20" ry="9" fill="#a9a5a5"/>
<ellipse cx="72" cy="49" rx="19" ry="8" fill="#dcd9d9"/>
<path d="M55 30 L95 24 L95 31 L55 37 Z" fill="#5d5856"/><path d="M53 62 L100 48 L100 76 L62 73 Z" fill="#8a3a33"/>
<ellipse cx="72" cy="82" rx="17" ry="10" fill="#e0dddd"/>
<rect x="37" y="68" width="17" height="26" rx="3" fill="#e9e9ec"/>
<ellipse cx="45" cy="78" rx="5" ry="4.500" fill="#3b3b40"/>
<rect x="0" y="90" width="100" height="10" fill="#a26d60"/>
</g><rect x="0" y="0" width="100" height="100" fill="#000" opacity=".18"/></g></svg>
<!--/LOGOS-->

<!-- bottom debug strip + scrollbar -->
<div class="abs" style="left:0;top:913px;width:1920px;height:3px;background:#8f2230"></div>
<div class="abs" style="left:48px;top:913px;width:288px;height:3px;background:#a8424d"></div>
<div class="abs" style="left:387px;top:913px;width:48px;height:3px;background:#b3121f"></div>
<div id="scroll" class="abs" style="left:1905px;top:0;width:15px;height:913px;background:#2c2c2c">
  <div class="abs" style="left:3px;top:12px;width:9px;height:327px;border-radius:4.5px;background:#9f9f9f"></div>
  <svg style="left:2.5px;top:-0.5px;width:10px;height:5.5px" viewBox="0 0 10 5.5"><path d="M0 5.5H10L5 0Z" fill="#a3a3a3"/></svg>
  <svg style="left:2.5px;top:901px;width:10px;height:5.5px" viewBox="0 0 10 5.5"><path d="M0 0H10L5 5.5Z" fill="#a3a3a3"/></svg>
</div>
</body>
</html>
